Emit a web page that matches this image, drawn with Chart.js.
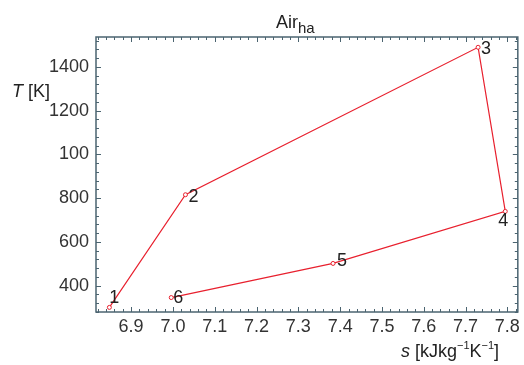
<!DOCTYPE html>
<html>
<head>
<meta charset="utf-8">
<script src="https://cdn.jsdelivr.net/npm/chart.js@4.4.0/dist/chart.umd.min.js"></script>
<style>
  body { margin: 0; background: #fff; }
  #wrap { width: 524px; height: 365px; }
</style>
</head>
<body>
<div id="wrap"><canvas id="myChart"></canvas></div>
<script>
// state points of the cycle
const stateLabels = ['1', '2', '3', '4', '5', '6'];
const entropy = [6.848, 7.03, 7.73, 7.795, 7.383, 6.996];
const temps = [301, 816, 1490, 740, 502, 346];

const xTicks = [6.9, 7.0, 7.1, 7.2, 7.3, 7.4, 7.5, 7.6, 7.7, 7.8];
const yTicks = [400, 600, 800, 1000, 1200, 1400];
const yTickLabels = ['400', '600', '800', '100', '1200', '1400'];

const FONT = '"Liberation Sans", Arial, sans-serif';
const RED = '#e8202e';
const FRAME = '#4b6470';

// where the number sits next to its point (px)
const labelOffsets = [[5, -9], [8, 2], [8, 2], [-2, 10], [9, -2], [7, 0]];

const points = entropy.map((s, i) => ({ x: s, y: temps[i] }));

// frame with inward ticks on all four sides
const frameTicks = {
  id: 'frameTicks',
  afterDraw(chart) {
    const ctx = chart.ctx;
    const a = chart.chartArea;
    const xs = chart.scales.x, ys = chart.scales.y;
    ctx.save();
    ctx.strokeStyle = FRAME;
    ctx.lineWidth = 1.5;
    ctx.strokeRect(a.left, a.top, a.right - a.left, a.bottom - a.top);
    ctx.lineWidth = 1;
    ctx.beginPath();
    for (let v = 6.82; v <= 7.82; v += 0.02) {
      const px = Math.round(xs.getPixelForValue(v)) + 0.5;
      const major = Math.abs(v * 10 - Math.round(v * 10)) < 0.01;
      const len = major ? 5 : 3;
      ctx.moveTo(px, a.bottom); ctx.lineTo(px, a.bottom - len);
      ctx.moveTo(px, a.top); ctx.lineTo(px, a.top + len);
    }
    for (let v = 280; v <= 1520; v += 40) {
      const py = Math.round(ys.getPixelForValue(v)) + 0.5;
      const len = v % 200 === 0 ? 5 : 3;
      ctx.moveTo(a.left, py); ctx.lineTo(a.left + len, py);
      ctx.moveTo(a.right, py); ctx.lineTo(a.right - len, py);
    }
    ctx.stroke();
    ctx.restore();
  }
};

// numbers next to the state points
const pointNames = {
  id: 'pointNames',
  afterDatasetsDraw(chart) {
    const ctx = chart.ctx;
    const xs = chart.scales.x, ys = chart.scales.y;
    ctx.save();
    ctx.font = '18px ' + FONT;
    ctx.fillStyle = '#222';
    ctx.textAlign = 'center';
    ctx.textBaseline = 'middle';
    stateLabels.forEach((t, i) => {
      const px = xs.getPixelForValue(entropy[i]);
      const py = ys.getPixelForValue(temps[i]);
      ctx.fillText(t, px + labelOffsets[i][0], py + labelOffsets[i][1]);
    });
    ctx.restore();
  }
};

// draw a run of text pieces: [text, font, dy]
function drawPieces(ctx, x, y, pieces) {
  ctx.textAlign = 'left';
  ctx.textBaseline = 'alphabetic';
  pieces.forEach(p => {
    ctx.font = p[1];
    ctx.fillText(p[0], x, y + (p[2] || 0));
    x += ctx.measureText(p[0]).width;
  });
}

const titles = {
  id: 'titles',
  afterDraw(chart) {
    const ctx = chart.ctx;
    ctx.save();
    ctx.fillStyle = '#222';
    // plot title
    drawPieces(ctx, 276, 28, [
      ['Air', '18px ' + FONT],
      ['ha', '15px ' + FONT, 5]
    ]);
    // y axis title
    drawPieces(ctx, 12, 97, [
      ['T', 'italic 18px ' + FONT],
      [' [K]', '18px ' + FONT]
    ]);
    // x axis title
    drawPieces(ctx, 401, 357, [
      ['s', 'italic 18px ' + FONT],
      [' [kJkg', '18px ' + FONT],
      ['\u22121', '11px ' + FONT, -8],
      ['K', '18px ' + FONT],
      ['\u22121', '11px ' + FONT, -8],
      [']', '18px ' + FONT]
    ]);
    ctx.restore();
  }
};

const config = {
  type: 'scatter',
  data: {
    datasets: [{
      data: points,
      showLine: true,
      borderColor: RED,
      borderWidth: 1.2,
      pointRadius: 2,
      pointBorderWidth: 1,
      pointBorderColor: RED,
      pointBackgroundColor: '#fff',
      tension: 0
    }]
  },
  options: {
    responsive: true,
    maintainAspectRatio: false,
    animation: false,
    layout: { padding: { top: 37, right: 2, left: 0, bottom: 0 } },
    plugins: { legend: { display: false }, tooltip: { enabled: false } },
    scales: {
      x: {
        type: 'linear',
        min: 6.816,
        max: 7.825,
        afterBuildTicks: s => { s.ticks = xTicks.map(v => ({ value: v })); },
        afterFit: s => { s.height = 53; },
        grid: { display: false, drawTicks: false },
        border: { display: false },
        ticks: {
          padding: 4,
          color: '#333',
          font: { family: FONT, size: 18 },
          callback: v => v.toFixed(1)
        }
      },
      y: {
        type: 'linear',
        min: 280,
        max: 1537,
        afterBuildTicks: s => { s.ticks = yTicks.map(v => ({ value: v })); },
        afterFit: s => { s.width = 96; },
        grid: { display: false, drawTicks: false },
        border: { display: false },
        ticks: {
          padding: 7,
          color: '#333',
          font: { family: FONT, size: 18 },
          callback: (v, i) => yTickLabels[i]
        }
      }
    }
  },
  plugins: [frameTicks, pointNames, titles]
};

const myChart = new Chart(document.getElementById('myChart'), config);
</script>
</body>
</html>
